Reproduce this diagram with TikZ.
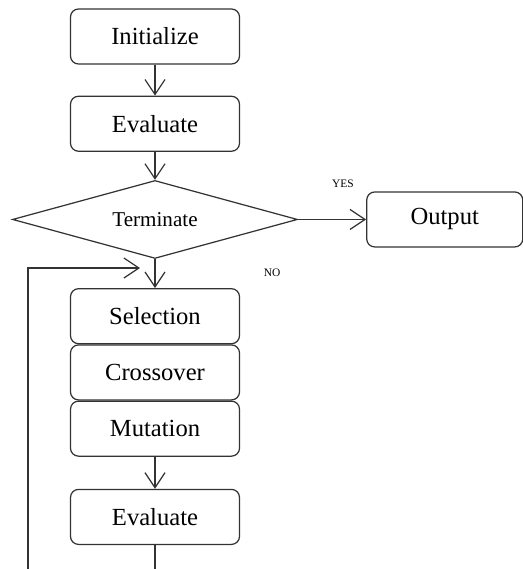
\documentclass[tikz,border=0pt]{standalone}
\usepackage{fontspec}
\setmainfont{Liberation Serif}
\usetikzlibrary{arrows.meta,positioning,shapes.geometric}

\begin{document}
\begin{tikzpicture}[
        node distance=6.2mm,
        stepbox/.style={
            draw=black!80,
            rounded corners=1.6mm,
            line width=0.7pt,
            minimum width=3.38cm,
            minimum height=1.1cm,
            inner sep=0pt,
            font=\fontsize{14}{16}\selectfont
        },
        decision/.style={
            draw=black!80,
            diamond,
            aspect=3.75,
            line width=0.7pt,
            minimum width=5.7cm,
            minimum height=1.56cm,
            inner sep=0pt,
            font=\fontsize{12}{14}\selectfont
        },
        tag/.style={
            font=\fontsize{6.5}{8}\selectfont
        },
        flow/.style={
            -{Straight Barb[length=3mm,width=4mm]},
            line width=0.7pt,
            draw=black!80
        }
    ]
        \useasboundingbox (-3.1,0.73) rectangle (7.36,-10.65);

        \node[stepbox] (init) at (0,0) {Initialize};
        \node[stepbox, below=of init] (eval) {Evaluate};
        \node[decision, below=5.6mm of eval] (term) {Terminate};
        \node[stepbox, right=1.36cm of term, minimum width=3.12cm] (output) {Output};
        \node[stepbox, below=5.8mm of term] (select) {Selection};
        \node[stepbox, below=0pt of select] (cross) {Crossover};
        \node[stepbox, below=0pt of cross] (mutate) {Mutation};
        \node[stepbox, below=6.4mm of mutate] (evaltwo) {Evaluate};

        \node[tag] (yes) at (3.76,-2.95) {YES};
        \node[tag] (no) at (2.34,-4.73) {NO};

        \coordinate (loopin) at (-0.3,-4.63);
        \coordinate (loopfoot) at (-2.54,-10.65);
        \coordinate (evalfoot) at (0,-10.65);

        \draw[flow] (init) -- (eval);
        \draw[flow] (eval) -- (term);
        \draw[flow] (term) -- (output);
        \draw[flow] (term) -- (select);
        \draw[flow] (mutate) -- (evaltwo);
        \draw[line width=0.7pt, draw=black!80] (evaltwo) -- (evalfoot);
        \draw[flow] (loopfoot) |- (loopin);
    \end{tikzpicture}
\end{document}
